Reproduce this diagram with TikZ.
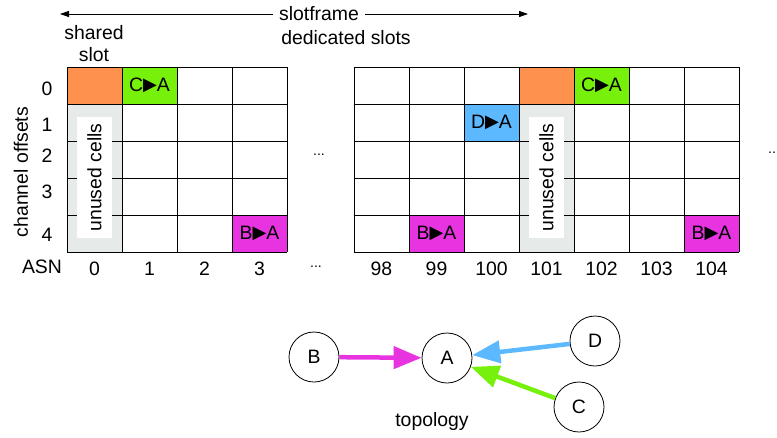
\documentclass[tikz,border=0pt]{standalone}
\usepackage{fontspec}
\setmainfont{Liberation Sans}
\newfontfamily\dejavu{DejaVu Sans}
\usetikzlibrary{arrows.meta}
\definecolor{cOrange}{HTML}{FF914F}
\definecolor{cGreen}{HTML}{77F00C}
\definecolor{cBlue}{HTML}{5CB8FF}
\definecolor{cMag}{HTML}{E834E0}
\definecolor{cGray}{HTML}{E6EAE8}
\newcommand{\tri}{\raisebox{1.5pt}{\dejavu\fontsize{18}{18}\selectfont ▶}}
\tikzset{
  lbl/.style={font=\fontsize{19.4}{22}\selectfont, inner sep=0pt},
  cellfill/.style={minimum width=55pt, minimum height=37pt, inner sep=0pt, font=\fontsize{19.4}{22}\selectfont},
  gridline/.style={draw=black, line width=0.8pt},
  unusedbox/.style={fill=white, minimum width=35pt, minimum height=121pt, inner sep=0pt},
  topo/.style={circle, draw=black, line width=0.8pt, minimum size=50pt, inner sep=0pt, font=\fontsize{19.4}{22}\selectfont},
  link/.style={line width=4.5pt, -{Triangle[length=28pt,width=22pt]}},
  hdr/.style={line width=0.8pt, -{Triangle[length=9pt,width=6pt]}},
  dotnode/.style={font=\fontsize{14}{16}\selectfont, inner sep=0pt}
}
\begin{document}
\begin{tikzpicture}[x=1pt,y=-1pt]
\useasboundingbox (0,0) rectangle (777,437);

% header
\node[lbl] (sf) at (319,14) {slotframe};
\node[lbl] (ded) at (346,38) {dedicated slots};
\node[lbl, align=center] (shared) at (94,44) {shared\\slot};
\coordinate (leftend) at (60,14);
\coordinate (rightend) at (528,14);
\draw[hdr] ([xshift=-6pt]sf.west) -- (leftend);
\draw[hdr] ([xshift=6pt]sf.east) -- (rightend);

% fills left grid
\fill[cOrange] (67,67) rectangle (122,104);
\node[cellfill, fill=cGreen] (ca1) at (149.5,85.5) {C\tri A};
\fill[cGray] (67,104) rectangle (122,252);
\node[cellfill, fill=cMag] (ba1) at (259.5,233.5) {B\tri A};

% fills right grid
\node[cellfill, fill=cBlue] (da) at (491.5,122.5) {D\tri A};
\node[cellfill, fill=cMag] (ba2) at (436.5,233.5) {B\tri A};
\fill[cOrange] (519,67) rectangle (574,104);
\fill[cGray] (519,104) rectangle (574,252);
\node[cellfill, fill=cGreen] (ca2) at (601.5,85.5) {C\tri A};
\node[cellfill, fill=cMag] (ba3) at (711.5,233.5) {B\tri A};

% grid lines
\foreach \y in {67,104,141,178,215,252} {
  \draw[gridline] (67,\y) -- (287,\y);
  \draw[gridline] (354,\y) -- (739,\y);
}
\foreach \x in {67,122,177,232,287} \draw[gridline] (\x,67) -- (\x,252);
\foreach \x in {354,409,464,519,574,629,684,739} \draw[gridline] (\x,67) -- (\x,252);

% unused cells
\node[unusedbox] (un1) at (94.5,177.5) {};
\node[lbl, rotate=90] at (un1.center) {unused cells};
\node[unusedbox] (un2) at (546.5,177.5) {};
\node[lbl, rotate=90] at (un2.center) {unused cells};

% row labels
\node[lbl, rotate=90] (co) at (21,172) {channel offsets};
\node[lbl] (r0) at (47,89) {0};
\node[lbl] (r1) at (47,125) {1};
\node[lbl] (r2) at (47,156) {2};
\node[lbl] (r3) at (47,192) {3};
\node[lbl] (r4) at (47,235) {4};

% ASN labels
\node[lbl] (asn) at (42,267) {ASN};
\foreach \x/\t in {94.5/0,149.5/1,204.5/2,259.5/3,381.5/98,436.5/99,491.5/100,546.5/101,601.5/102,656.5/103,711.5/104}
  \node[lbl] at (\x,269) {\t};

% dots
\node[dotnode] (d1) at (319,155) {...};
\node[dotnode] (d2) at (316,267) {...};
\node[dotnode, anchor=west] (d3) at (768,153) {...};

% topology
\node[topo] (B) at (314,357) {B};
\node[topo] (A) at (447,358) {A};
\node[topo] (D) at (595,341) {D};
\node[topo] (C) at (579,407) {C};
\node[lbl] (topology) at (432,421) {topology};
\draw[link, cMag] (B) -- (A);
\draw[link, cBlue] (D) -- (A);
\draw[link, cGreen] (C) -- (A);
\end{tikzpicture}
\end{document}
